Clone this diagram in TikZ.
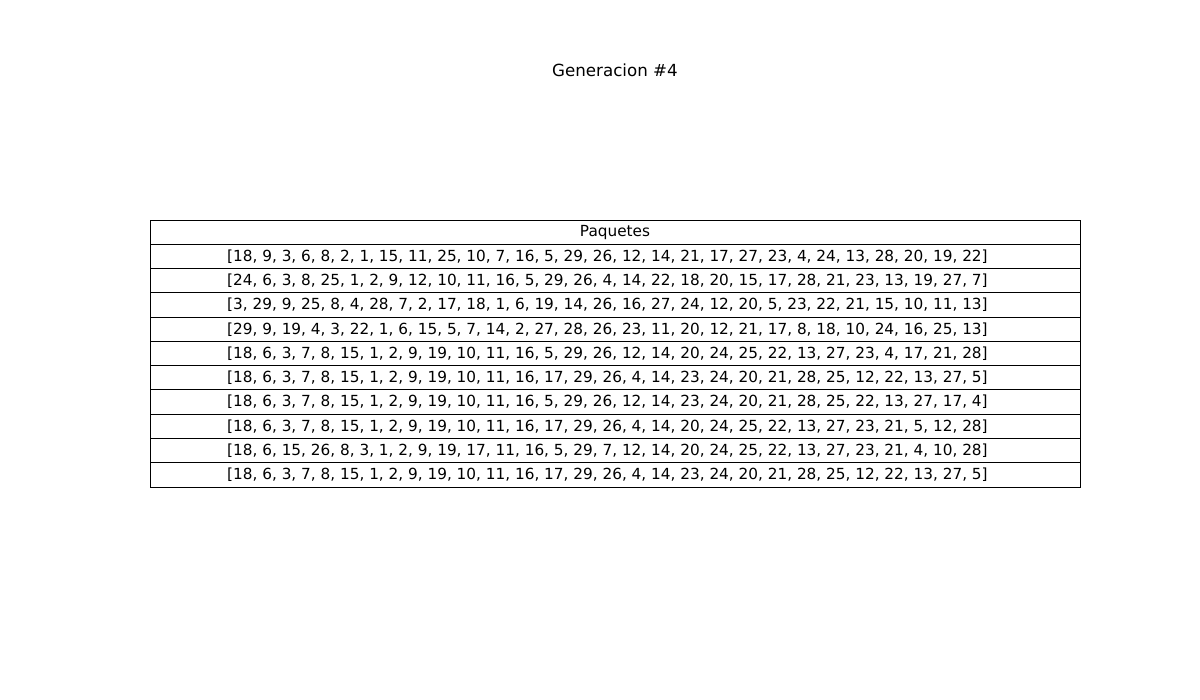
\documentclass[tikz,border=0pt]{standalone}
\usepackage{fontspec}
\setmainfont{DejaVu Sans}
\begin{document}
\begin{tikzpicture}[x=0.01in,y=-0.01in,
  cellbox/.style={draw=black,line width=0.7pt,fill=white},
  celltext/.style={font=\fontsize{11bp}{13bp}\selectfont,anchor=center,inner sep=0pt},
  titletext/.style={font=\fontsize{12bp}{14bp}\selectfont,anchor=center,inner sep=0pt}]
\useasboundingbox (0,0) rectangle (1200,700);
\node[titletext] (title) at (615,70) {Generacion \#4};
\def\rh{24.2727}
\foreach \i/\t/\cx in {0/Paquetes/615,
1/{[18, 9, 3, 6, 8, 2, 1, 15, 11, 25, 10, 7, 16, 5, 29, 26, 12, 14, 21, 17, 27, 23, 4, 24, 13, 28, 20, 19, 22]}/607.5,
2/{[24, 6, 3, 8, 25, 1, 2, 9, 12, 10, 11, 16, 5, 29, 26, 4, 14, 22, 18, 20, 15, 17, 28, 21, 23, 13, 19, 27, 7]}/607.5,
3/{[3, 29, 9, 25, 8, 4, 28, 7, 2, 17, 18, 1, 6, 19, 14, 26, 16, 27, 24, 12, 20, 5, 23, 22, 21, 15, 10, 11, 13]}/607.5,
4/{[29, 9, 19, 4, 3, 22, 1, 6, 15, 5, 7, 14, 2, 27, 28, 26, 23, 11, 20, 12, 21, 17, 8, 18, 10, 24, 16, 25, 13]}/607.5,
5/{[18, 6, 3, 7, 8, 15, 1, 2, 9, 19, 10, 11, 16, 5, 29, 26, 12, 14, 20, 24, 25, 22, 13, 27, 23, 4, 17, 21, 28]}/607.5,
6/{[18, 6, 3, 7, 8, 15, 1, 2, 9, 19, 10, 11, 16, 17, 29, 26, 4, 14, 23, 24, 20, 21, 28, 25, 12, 22, 13, 27, 5]}/607.5,
7/{[18, 6, 3, 7, 8, 15, 1, 2, 9, 19, 10, 11, 16, 5, 29, 26, 12, 14, 23, 24, 20, 21, 28, 25, 22, 13, 27, 17, 4]}/607.5,
8/{[18, 6, 3, 7, 8, 15, 1, 2, 9, 19, 10, 11, 16, 17, 29, 26, 4, 14, 20, 24, 25, 22, 13, 27, 23, 21, 5, 12, 28]}/607.5,
9/{[18, 6, 15, 26, 8, 3, 1, 2, 9, 19, 17, 11, 16, 5, 29, 7, 12, 14, 20, 24, 25, 22, 13, 27, 23, 21, 4, 10, 28]}/607.5,
10/{[18, 6, 3, 7, 8, 15, 1, 2, 9, 19, 10, 11, 16, 17, 29, 26, 4, 14, 23, 24, 20, 21, 28, 25, 12, 22, 13, 27, 5]}/607.5}{
  \path[cellbox] (150,{220+\i*\rh}) rectangle (1080,{220+(\i+1)*\rh});
  \node[celltext] (c\i) at (\cx,{220+(\i+0.5)*\rh}) {\t};
}
\end{tikzpicture}
\end{document}
